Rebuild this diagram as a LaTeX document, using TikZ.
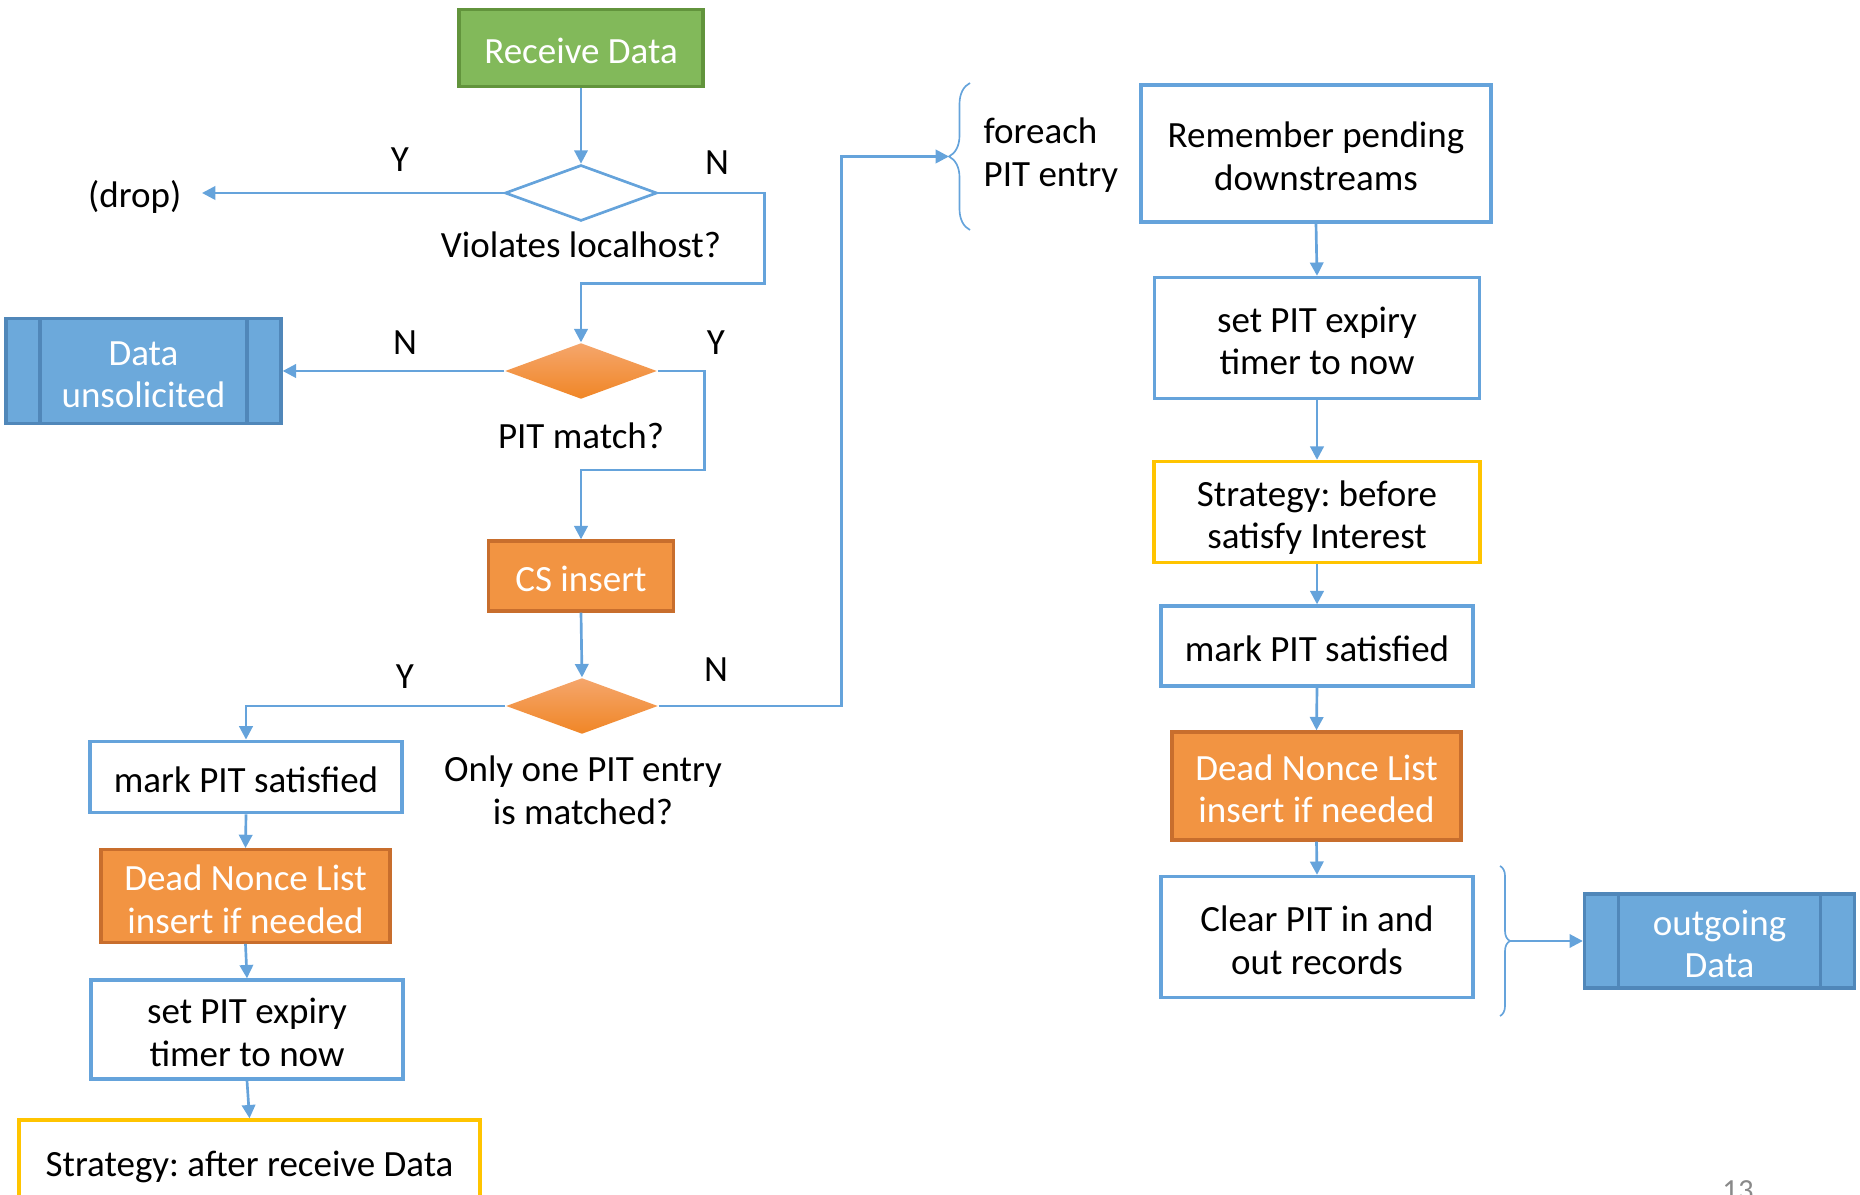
\documentclass[tikz,border=0pt]{standalone}
\usepackage{fontspec}
\setmainfont{Carlito}
\frenchspacing
\usetikzlibrary{shapes.geometric,arrows.meta,decorations.pathreplacing}
\definecolor{flowline}{RGB}{101,163,219}
\definecolor{greenfill}{RGB}{130,185,90}
\definecolor{greenline}{RGB}{98,148,60}
\definecolor{orangefill}{RGB}{242,148,66}
\definecolor{orangeline}{RGB}{200,110,45}
\definecolor{hottop}{RGB}{245,166,108}
\definecolor{hotbottom}{RGB}{240,134,38}
\definecolor{bluefill}{RGB}{108,169,219}
\definecolor{blueline}{RGB}{80,135,185}
\definecolor{yellowline}{RGB}{255,196,0}
\definecolor{numgray}{RGB}{137,137,137}

\tikzset{
    box/.style={draw=flowline,line width=1pt,fill=white,align=center,inner sep=0pt,
        execute at begin node={\rule{0pt}{1.1em}},
        execute at end node={\rule[-0.25em]{0pt}{0pt}}},
    twolines/.style={execute at begin node={\rule{0pt}{2.25em}}},
    greenbox/.style={box,draw=greenline,fill=greenfill,text=white},
    orangebox/.style={box,draw=orangeline,fill=orangefill,text=white},
    yellowbox/.style={box,draw=yellowline},
    databox/.style={box,draw=blueline,fill=bluefill,text=white,
        path picture={\draw[blueline,line width=1pt]
            ([xshift=10.2pt]path picture bounding box.north west) -- ([xshift=10.2pt]path picture bounding box.south west)
            ([xshift=-10.2pt]path picture bounding box.north east) -- ([xshift=-10.2pt]path picture bounding box.south east);}},
    decision/.style={diamond,inner sep=0pt,minimum width=45.6pt,minimum height=16.8pt},
    hot/.style={decision,top color=hottop,bottom color=hotbottom},
    arr/.style={draw=flowline,line width=0.8pt,-{Triangle[length=4pt,width=4pt]}},
    lbl/.style={inner sep=0pt,align=center},
    curly/.style={draw=flowline,line width=0.5pt,decorate}
}

\begin{document}
\begin{tikzpicture}[x=0.3pt,y=-0.3pt,font=\fontsize{11.1pt}{12.8pt}\selectfont]
    \useasboundingbox (0,0) rectangle (1860,1195);
    \node [greenbox,minimum width=73.2pt,minimum height=23.1pt] (recv) at (581,48) {Receive Data};
    \node [decision,draw=flowline,line width=0.8pt] (d1) at (581,193) {};
    \node [lbl] (q1) at (581,245) {Violates localhost?};
    \node [lbl,anchor=east,inner xsep=6pt] (drop) at (202,197) {(drop)};
    \node [lbl] (y1) at (400,160) {Y};
    \node [lbl] (n1) at (717,163) {N};
    \node [hot] (d2) at (581,371) {};
    \node [lbl] (q2) at (581,436) {PIT match?};
    \node [lbl] (n2) at (405,343) {N};
    \node [lbl] (y2) at (716,343) {Y};
    \node [databox,twolines,minimum width=82.5pt,minimum height=31.35pt] (unsol) at (143.5,371) {Data\\unsolicited};
    \node [orangebox,minimum width=55.5pt,minimum height=21pt] (cs) at (581,576) {CS insert};
    \node [hot] (d3) at (582,706) {};
    \node [lbl] (q3) at (583,790) {Only one PIT entry\\is matched?};
    \node [lbl] (y3) at (405,677) {Y};
    \node [lbl] (n3) at (716,670) {N};
    \node [box,minimum width=93.6pt,minimum height=21.45pt] (mark1) at (246,777) {mark PIT satisfied};
    \node [orangebox,twolines,minimum width=86.7pt,minimum height=27.6pt] (dnl1) at (245.5,896) {Dead Nonce List\\insert if needed};
    \node [box,twolines,minimum width=93.6pt,minimum height=29.7pt] (set1) at (247,1029.5) {set PIT expiry\\timer to now};
    \node [yellowbox,minimum width=138.3pt,minimum height=24.6pt] (strat1) at (249.5,1161) {Strategy: after receive Data};
    \node [lbl,anchor=west,align=left] (loop) at (983,155) {foreach\\PIT entry};
    \node [box,twolines,minimum width=105pt,minimum height=41.1pt] (rem) at (1316,153.5) {Remember pending\\downstreams};
    \node [box,twolines,minimum width=97.5pt,minimum height=36.3pt] (set2) at (1317,338) {set PIT expiry\\timer to now};
    \node [yellowbox,twolines,minimum width=97.8pt,minimum height=30.3pt] (strat2) at (1317,512) {Strategy: before\\satisfy Interest};
    \node [box,minimum width=93.6pt,minimum height=24pt] (mark2) at (1317,646) {mark PIT satisfied};
    \node [orangebox,twolines,minimum width=86.7pt,minimum height=32.4pt] (dnl2) at (1316.5,786) {Dead Nonce List\\insert if needed};
    \node [box,twolines,minimum width=93.6pt,minimum height=36.3pt] (clear) at (1317,937) {Clear PIT in and\\out records};
    \node [databox,twolines,minimum width=81pt,minimum height=28.2pt] (out) at (1719.5,941) {outgoing\\Data};
    \node [text=numgray,font=\fontsize{9.2pt}{11pt}\selectfont,anchor=base] (pgnum) at (1738,1200) {13};
    \draw [curly,decoration={brace,amplitude=6.3pt}] (970,230) -- (970,83);
    \coordinate (pitloop) at (949,156.5);
    \draw [curly,decoration={brace,amplitude=3pt}] (1500,866) -- (1500,1016);
    \coordinate (outbrace) at (1510,941);
    \draw [arr] (recv.south) -- (d1.north);
    \draw [arr] (d1.west) -- (drop.east |- d1.west);
    \draw [arr] (d1.east) -- ++(106,0) -- ++(0,90.5) -| (d2.north);
    \draw [arr] (d2.west) -- (unsol.east);
    \draw [arr] (d2.east) -- ++(47,0) -- ++(0,99) -| (cs.north);
    \draw [arr] (cs.south) -- (d3.north);
    \draw [arr] (d3.west) -| (mark1.north);
    \draw [arr] (d3.east) -- ++(183,0) |- (pitloop);
    \draw [arr] (mark1.south) -- (dnl1.north);
    \draw [arr] (dnl1.south) -- (set1.north);
    \draw [arr] (set1.south) -- (strat1.north);
    \draw [arr] (rem.south) -- (set2.north);
    \draw [arr] (set2.south) -- (strat2.north);
    \draw [arr] (strat2.south) -- (mark2.north);
    \draw [arr] (mark2.south) -- (dnl2.north);
    \draw [arr] (dnl2.south) -- (clear.north);
    \draw [arr] (outbrace) -- (out.west);
  		\end{tikzpicture}
\end{document}
